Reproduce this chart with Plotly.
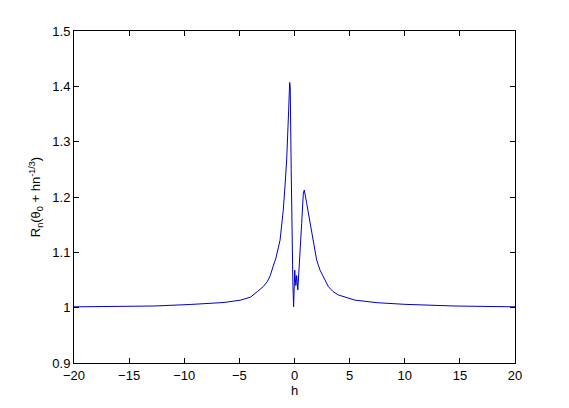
import plotly.graph_objects as go

# h values and R_n(theta_0 + h n^-1/3)
h = [
    -20, -16, -12.74, -9.41, -7.5, -6.39, -4.88, -4.0, -3.37, -2.83, -2.47,
    -2.2, -1.95, -1.68, -1.31, -1.02, -0.86, -0.71, -0.53, -0.44, -0.39,
    -0.30, -0.22, -0.15, -0.08, 0.02, 0.12, 0.20, 0.30, 0.50, 0.65, 0.80,
    0.89, 1.11, 1.41, 1.71, 2.01, 2.31, 2.70, 3.07, 3.5, 3.97, 5.49, 7.5,
    10.02, 14.56, 20,
]
r_n = [
    1.0015, 1.0022, 1.003, 1.0058, 1.0078, 1.0094, 1.0136, 1.019, 1.029,
    1.038, 1.047, 1.058, 1.074, 1.09, 1.122, 1.176, 1.22, 1.267, 1.357,
    1.407, 1.40, 1.25, 1.08, 1.045, 1.0015, 1.068, 1.04, 1.058, 1.032,
    1.092, 1.152, 1.207, 1.2125, 1.188, 1.152, 1.118, 1.086, 1.068, 1.053,
    1.038, 1.029, 1.023, 1.0136, 1.009, 1.006, 1.003, 1.0015,
]

x_ticks = [-20, -15, -10, -5, 0, 5, 10, 15, 20]
y_ticks = [0.9, 1.0, 1.1, 1.2, 1.3, 1.4, 1.5]
y_tick_text = ["0.9", "1", "1.1", "1.2", "1.3", "1.4", "1.5"]

_FONT = {"family": "Liberation Sans, Arial, sans-serif", "size": 13, "color": "black"}

_AXIS = {
    "showgrid": False,
    "zeroline": False,
    "showline": True,
    "linecolor": "black",
    "linewidth": 1,
    "mirror": "ticks",
    "ticks": "inside",
    "ticklen": 5,
    "tickcolor": "black",
    "tickfont": _FONT,
}

fig = go.Figure(
    go.Scatter(
        x=h,
        y=r_n,
        mode="lines",
        line={"color": "#0000c8", "width": 1},
        showlegend=False,
    )
)
# the page body adds an 8 px margin, so the figure is 8 px smaller on each side
fig.update_layout(
    width=561,
    height=400,
    paper_bgcolor="white",
    plot_bgcolor="white",
    font=_FONT,
    margin={"l": 66, "r": 54, "t": 23, "b": 45},
    xaxis={
        **_AXIS,
        "range": [-20, 20],
        "tickvals": x_ticks,
        "title": {"text": "h", "font": _FONT, "standoff": 2},
    },
    yaxis={
        **_AXIS,
        "range": [0.9, 1.5],
        "tickvals": y_ticks,
        "ticktext": y_tick_text,
        "title": {
            "text": "R<sub>n</sub>(θ<sub>0</sub> + hn<sup>-1/3</sup>)",
            "font": _FONT,
            "standoff": 8,
        },
    },
)
fig.write_html("out.html")
